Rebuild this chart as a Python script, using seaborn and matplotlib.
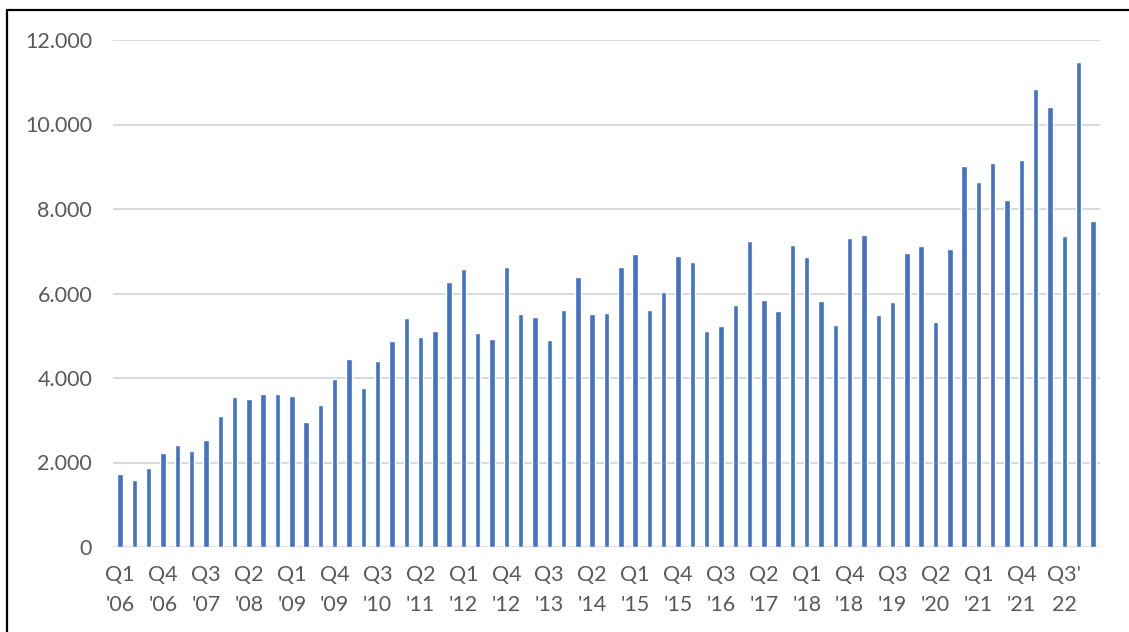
import matplotlib
matplotlib.use("Agg")
import matplotlib.pyplot as plt
import matplotlib.ticker as mticker
import seaborn as sns
import pandas as pd

# Quarterly series, Q1 2006 .. Q1 2023
years = list(range(2006, 2024))
quarters = [f"Q{q} '{y % 100:02d}" for y in years for q in (1, 2, 3, 4)][:69]

values = [
    1720, 1580, 1870, 2218, 2414, 2272, 2532, 3108,
    3558, 3495, 3614, 3629, 3574, 2959, 3361, 3976,
    4441, 3756, 4394, 4866, 5425, 4969, 5102, 6270,
    6590, 5074, 4932, 6620, 5524, 5453, 4892, 5619,
    6391, 5524, 5539, 6627, 6944, 5610, 6029, 6888,
    6746, 5105, 5240, 5737, 7243, 5839, 5595, 7150,
    6870, 5830, 5250, 7320, 7390, 5500, 5800, 6970,
    7130, 5330, 7050, 9010, 8650, 9080, 8210, 9150,
    10830, 10420, 7370, 11480, 7720,
]

tick_labels = [
    "Q1\n'06", "Q4\n'06", "Q3\n'07", "Q2\n'08", "Q1\n'09", "Q4\n'09",
    "Q3\n'10", "Q2\n'11", "Q1\n'12", "Q4\n'12", "Q3\n'13", "Q2\n'14",
    "Q1\n'15", "Q4\n'15", "Q3\n'16", "Q2\n'17", "Q1\n'18", "Q4\n'18",
    "Q3\n'19", "Q2\n'20", "Q1\n'21", "Q4\n'21", "Q3'\n22",
]
y_ticks = [0, 2000, 4000, 6000, 8000, 10000, 12000]

df = pd.DataFrame({"quarter": quarters, "value": values})

sns.set_theme(style="white")
plt.rcParams["font.family"] = ["Lato", "DejaVu Sans"]

text_color = "#595959"
grid_color = "#D9D9D9"
bar_color = "#4472C4"

fig = plt.figure(figsize=(11.29, 6.32), dpi=100)
ax = fig.add_axes([113 / 1129, 1 - 547 / 632, 987 / 1129, 507 / 632])

sns.barplot(data=df, x="quarter", y="value", color=bar_color,
            saturation=1, width=0.38, ax=ax, zorder=3)

ax.set_xlim(-0.5, len(quarters) - 0.5)
ax.set_ylim(0, 12000)
ax.set_yticks(y_ticks)
ax.yaxis.set_major_formatter(
    mticker.FuncFormatter(lambda v, _: f"{int(v):,}".replace(",", "."))
)
ax.set_xticks(range(0, len(quarters), 3))
ax.set_xticklabels(tick_labels, linespacing=1.65)

ax.grid(axis="y", color=grid_color, linewidth=1.4, zorder=0)
ax.grid(axis="x", visible=False)
for side in ("top", "right", "left", "bottom"):
    ax.spines[side].set_visible(False)

ax.tick_params(axis="x", length=0, pad=13, labelsize=15.5, labelcolor=text_color)
ax.tick_params(axis="y", length=0, pad=15, labelsize=15.5, labelcolor=text_color)
ax.set_xlabel("")
ax.set_ylabel("")

# Chart frame (left and top edges fall inside the canvas)
fig.add_artist(plt.Line2D([7 / 1129, 7 / 1129], [0, 1 - 10 / 632],
                          transform=fig.transFigure, color="black", linewidth=1.6))
fig.add_artist(plt.Line2D([7 / 1129, 1], [1 - 10 / 632, 1 - 10 / 632],
                          transform=fig.transFigure, color="black", linewidth=1.6))

fig.savefig("out.png", dpi=100)
